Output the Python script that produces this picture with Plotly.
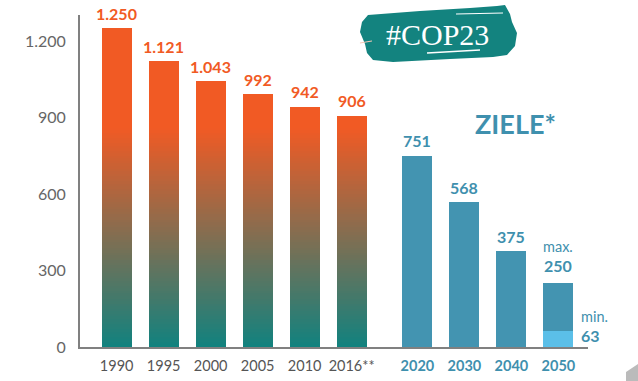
import plotly.graph_objects as go

# ---- data ----
years_hist = ["1990", "1995", "2000", "2005", "2010", "2016**"]
values_hist = [1250, 1121, 1043, 992, 942, 906]
years_goal = ["2020", "2030", "2040", "2050"]
values_goal = [751, 568, 375, 250]
min_2050 = 63
y_ticks = [0, 300, 600, 900, 1200]

# ---- layout constants ----
W, H = 638, 381
ML, MR, MT, MB = 80, 50, 15, 34
x_hist = [0, 1, 2, 3, 4, 5]
x_goal = [6.4, 7.4, 8.4, 9.4]
BW = 0.64
ORANGE = (241, 90, 36)
TEAL = (17, 130, 127)
BLUE = "#4394B1"
LIGHTBLUE = "#5BBFE8"
TXT_BLUE = "#3F90AE"
TXT_ORANGE = "#F15A24"
GRAD_TOP = 860
STEP = 10


def mix(f):
    r = [round(TEAL[i] + f * (ORANGE[i] - TEAL[i])) for i in range(3)]
    return "rgb(%d,%d,%d)" % tuple(r)


def de(v):
    return f"{v:,}".replace(",", ".")


fig = go.Figure()

# full orange bars
fig.add_trace(go.Bar(x=x_hist, y=values_hist, width=BW,
                     marker=dict(color=mix(1.0), line=dict(width=0)),
                     hoverinfo="skip", showlegend=False))
# gradient bands, painted top-down so lower bands cover higher ones
for k in range(GRAD_TOP // STEP - 1, -1, -1):
    top = (k + 1) * STEP
    xs, ys = [], []
    for xv, v in zip(x_hist, values_hist):
        if v > k * STEP:
            xs.append(xv)
            ys.append(min(v, top))
    f = (k + 0.5) * STEP / GRAD_TOP
    fig.add_trace(go.Bar(x=xs, y=ys, width=BW,
                         marker=dict(color=mix(f), line=dict(width=0)),
                         hoverinfo="skip", showlegend=False))

# goal bars
fig.add_trace(go.Bar(x=x_goal, y=values_goal, width=BW,
                     marker=dict(color=BLUE, line=dict(width=0)),
                     hoverinfo="skip", showlegend=False))
fig.add_trace(go.Bar(x=[x_goal[-1]], y=[min_2050], width=BW,
                     marker=dict(color=LIGHTBLUE, line=dict(width=0)),
                     hoverinfo="skip", showlegend=False))

ann = []
for xv, v in zip(x_hist, values_hist):
    ann.append(dict(x=xv, y=v, text="<b>%s</b>" % de(v), showarrow=False,
                    yanchor="middle", yshift=15,
                    font=dict(size=16, color=TXT_ORANGE)))
for xv, v in zip(x_goal[:-1], values_goal[:-1]):
    ann.append(dict(x=xv, y=v, text="<b>%s</b>" % de(v), showarrow=False,
                    yanchor="middle", yshift=15,
                    font=dict(size=16, color=TXT_BLUE)))
ann.append(dict(x=x_goal[-1], y=values_goal[-1], text="<b>%s</b>" % de(values_goal[-1]),
                showarrow=False, yanchor="middle", yshift=18,
                font=dict(size=16, color=TXT_BLUE)))
ann.append(dict(x=x_goal[-1], y=values_goal[-1], text="max.",
                showarrow=False, yanchor="middle", yshift=37,
                font=dict(size=14.5, color=TXT_BLUE)))
ann.append(dict(x=x_goal[-1] + BW / 2, y=min_2050, text="<b>%s</b>" % de(min_2050),
                showarrow=False, xanchor="left", yanchor="middle", xshift=6, yshift=-5,
                font=dict(size=16, color=TXT_BLUE)))
ann.append(dict(x=x_goal[-1] + BW / 2, y=min_2050, text="min.",
                showarrow=False, xanchor="left", yanchor="middle", xshift=6, yshift=14,
                font=dict(size=14.5, color=TXT_BLUE)))


def px(p):
    return (p - ML) / (W - ML - MR)


def py(p):
    return (H - MB - p) / (H - MT - MB)


ann.append(dict(xref="paper", yref="paper", x=px(515), y=py(123), text="<b>ZIELE*</b>",
                showarrow=False, xanchor="center", yanchor="middle",
                font=dict(size=27, color=TXT_BLUE)))
ann.append(dict(xref="paper", yref="paper", x=px(437), y=py(34), text="#COP23",
                showarrow=False, xanchor="center", yanchor="middle",
                font=dict(size=30, color="white", family="Liberation Serif")))


def path(pts, close=True):
    s = "M %f %f " % (px(pts[0][0]), py(pts[0][1]))
    for a, b in pts[1:]:
        s += "L %f %f " % (px(a), py(b))
    return s + ("Z" if close else "")


badge = [(368, 15), (420, 11), (470, 8), (497, 6), (505, 5), (510, 14), (512, 22),
         (517, 33), (515, 46), (507, 55), (493, 57), (450, 59), (393, 62), (373, 60),
         (367, 53), (365, 44), (360, 32), (362, 22)]
shapes = [
    dict(type="path", xref="paper", yref="paper", path=path(badge),
         fillcolor="#13837F", line=dict(width=0), layer="below"),
    dict(type="path", xref="paper", yref="paper", path=path([(456, 14), (503, 13)], False),
         line=dict(color="white", width=1.2)),
    dict(type="path", xref="paper", yref="paper", path=path([(427, 53), (480, 50)], False),
         line=dict(color="white", width=1.5)),
    dict(type="path", xref="paper", yref="paper", path=path([(360, 43), (372, 41)], False),
         line=dict(color="#F6C9B8", width=1)),
    dict(type="path", xref="paper", yref="paper",
         path=path([(626, 372), (638, 364), (638, 381), (626, 381)]),
         fillcolor="#BBBBBB", line=dict(width=0)),
]

ticktext_x = ["<span style='color:#555555'>%s</span>" % t for t in years_hist] + \
             ["<b><span style='color:%s'>%s</span></b>" % (TXT_BLUE, t) for t in years_goal]

fig.update_layout(
    width=W, height=H, margin=dict(l=ML, r=MR, t=MT, b=MB, autoexpand=False),
    paper_bgcolor="white", plot_bgcolor="white",
    barmode="overlay", bargap=0, showlegend=False, hovermode=False,
    font=dict(family="Lato", color="#666666"),
    annotations=ann, shapes=shapes,
    xaxis=dict(range=[-0.78, 10.03], tickvals=x_hist + x_goal, ticktext=ticktext_x,
               showline=True, linecolor="#808080", linewidth=2, showgrid=False,
               zeroline=False, ticks="", tickfont=dict(size=14.5), ticklabelstandoff=5,
               fixedrange=True),
    yaxis=dict(range=[0, 1302], tickvals=y_ticks, ticktext=[de(v) for v in y_ticks],
               showline=True, linecolor="#808080", linewidth=2, showgrid=False,
               zeroline=False, ticks="", tickfont=dict(size=16, color="#666666"),
               ticklabelstandoff=9, fixedrange=True),
)

fig.write_html("out.html", config={"displayModeBar": False},
               post_script="document.body.style.margin='0';document.body.style.overflow='hidden';")
